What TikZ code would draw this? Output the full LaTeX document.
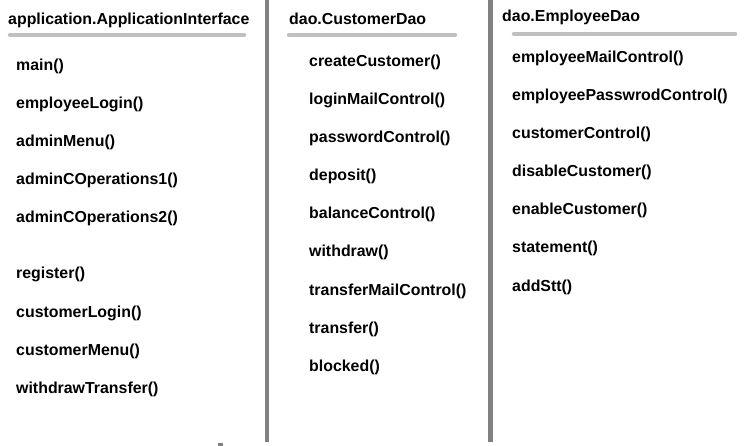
\documentclass[tikz,border=0pt]{standalone}
\usepackage{fontspec}
\setmainfont{Liberation Sans}
\usetikzlibrary{positioning}
\definecolor{rule}{HTML}{C0C0C0}
\definecolor{wall}{HTML}{808080}
\tikzset{
    %Define style for class titles
    header/.style={
           anchor=base west,
           inner sep=0pt,
           font=\fontsize{15.9}{18}\selectfont\bfseries},
    %Define style for method names
    method/.style={
           anchor=base west,
           inner sep=0pt,
           font=\fontsize{15.9}{18}\selectfont\bfseries},
    % Define line styles
    bar/.style={
           draw=rule,
           line width=4.5pt,
           line cap=round},
    sep/.style={
           draw=wall,
           line width=4.5pt}
}
\begin{document}
\begin{tikzpicture}[x=1pt,y=-1pt]
\useasboundingbox[fill=white] (0,0) rectangle (744,446);
% column walls
\coordinate (w1t) at (267,0);
\coordinate (w1b) at (267,442);
\coordinate (w2t) at (490.5,0);
\coordinate (w2b) at (490.5,442);
\draw[sep] (w1t) -- (w1b);
\draw[sep] (w2t) -- (w2b);
\node[fill=wall, inner sep=0pt, minimum width=5pt, minimum height=4pt, anchor=north west] (tick) at (218,442.5) {};
% application.ApplicationInterface
\node[header] (App) at (8,25) {application.ApplicationInterface};
\coordinate (A1) at (10,35);
\coordinate (A2) at (244,35);
\draw[bar] (A1) -- (A2);
\node[method] (main) at (16,71) {main()};
\node[method] (empLogin) at ([yshift=-38pt]main.base west) {employeeLogin()};
\node[method] (adminMenu) at ([yshift=-38pt]empLogin.base west) {adminMenu()};
\node[method] (adminOp1) at ([yshift=-38pt]adminMenu.base west) {adminCOperations1()};
\node[method] (adminOp2) at ([yshift=-38pt]adminOp1.base west) {adminCOperations2()};
\node[method] (register) at ([yshift=-56pt]adminOp2.base west) {register()};
\node[method] (custLogin) at ([yshift=-38pt]register.base west) {customerLogin()};
\node[method] (custMenu) at ([yshift=-38pt]custLogin.base west) {customerMenu()};
\node[method] (withdrawTr) at ([yshift=-38pt]custMenu.base west) {withdrawTransfer()};
% dao.CustomerDao
\node[header] (CustDao) at (289,25) {dao.CustomerDao};
\coordinate (C1) at (289,35);
\coordinate (C2) at (455,35);
\draw[bar] (C1) -- (C2);
\node[method] (create) at (309,67) {createCustomer()};
\node[method] (loginMail) at ([yshift=-38pt]create.base west) {loginMailControl()};
\node[method] (passCtl) at ([yshift=-38pt]loginMail.base west) {passwordControl()};
\node[method] (deposit) at ([yshift=-38pt]passCtl.base west) {deposit()};
\node[method] (balance) at ([yshift=-38pt]deposit.base west) {balanceControl()};
\node[method] (withdraw) at ([yshift=-38pt]balance.base west) {withdraw()};
\node[method] (trMail) at ([yshift=-38pt]withdraw.base west) {transferMailControl()};
\node[method] (transfer) at ([yshift=-38pt]trMail.base west) {transfer()};
\node[method] (blocked) at ([yshift=-38pt]transfer.base west) {blocked()};
% dao.EmployeeDao
\node[header] (EmpDao) at (502,22) {dao.EmployeeDao};
\coordinate (E1) at (514,34);
\coordinate (E2) at (735,34);
\draw[bar] (E1) -- (E2);
\node[method] (empMail) at (512,63) {employeeMailControl()};
\node[method] (empPass) at ([yshift=-38pt]empMail.base west) {employeePasswrodControl()};
\node[method] (custCtl) at ([yshift=-38pt]empPass.base west) {customerControl()};
\node[method] (disable) at ([yshift=-38pt]custCtl.base west) {disableCustomer()};
\node[method] (enable) at ([yshift=-38pt]disable.base west) {enableCustomer()};
\node[method] (stmt) at ([yshift=-38pt]enable.base west) {statement()};
\node[method] (addStt) at ([yshift=-38pt]stmt.base west) {addStt()};
\end{tikzpicture}
\end{document}
